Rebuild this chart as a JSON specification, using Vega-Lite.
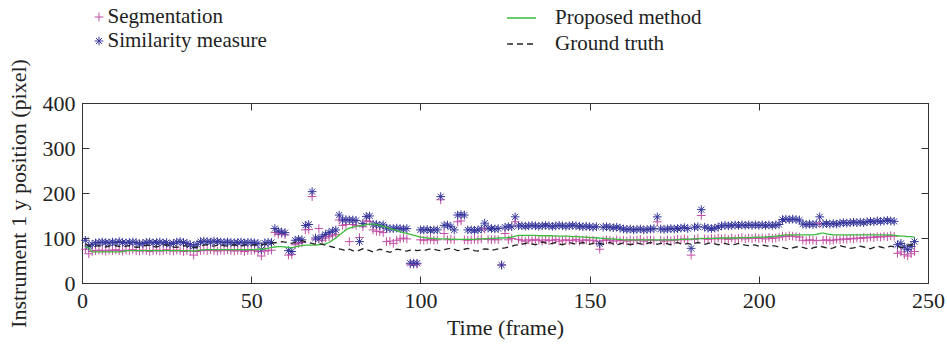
{
"$schema": "https://vega.github.io/schema/vega-lite/v6.json",
"width": 846, "height": 180,
"autosize": {"type": "none"},
"padding": {"left": 82, "top": 103, "right": 19, "bottom": 61},
"config": {
  "font": "Liberation Serif",
  "view": {"stroke": "#333", "strokeWidth": 1},
  "axis": {"grid": false, "tickSize": -7, "tickColor": "#333", "domainColor": "#333", "labelFontSize": 22, "titleFontSize": 22, "labelColor": "#222", "titleColor": "#222", "titleFontWeight": "normal", "labelPadding": 14, "labelFlush": false, "labelFont": "Liberation Serif", "titleFont": "Liberation Serif"},
  "legend": {"labelFont": "Liberation Serif", "labelFontSize": 21, "labelColor": "#222"}
},
"data": {"values": [
{"f":1,"S":75,"M":95,"P":80,"G":86},{"f":2,"S":65,"M":82,"P":78,"G":83},{"f":3,"S":70,"M":86,"P":69,"G":81},{"f":4,"S":72,"M":89,"P":69,"G":82},{"f":5,"S":73,"M":90,"P":69,"G":83},{"f":6,"S":72,"M":91,"P":69,"G":81},{"f":7,"S":71,"M":90,"P":69,"G":80},{"f":8,"S":73,"M":89,"P":69,"G":82},{"f":9,"S":72,"M":91,"P":69,"G":84},{"f":10,"S":74,"M":90,"P":69,"G":83},
{"f":11,"S":72,"M":92,"P":69,"G":81},{"f":12,"S":71,"M":90,"P":69,"G":80},{"f":13,"S":73,"M":89,"P":72,"G":82},{"f":14,"S":72,"M":90,"P":72,"G":83},{"f":15,"S":74,"M":91,"P":72,"G":81},{"f":16,"S":72,"M":90,"P":72,"G":79},{"f":17,"S":71,"M":87,"P":72,"G":80},{"f":18,"S":73,"M":88,"P":72,"G":82},{"f":19,"S":72,"M":90,"P":72,"G":84},{"f":20,"S":70,"M":91,"P":72,"G":83},
{"f":21,"S":72,"M":89,"P":72,"G":81},{"f":22,"S":73,"M":90,"P":72,"G":80},{"f":23,"S":71,"M":91,"P":72,"G":82},{"f":24,"S":72,"M":89,"P":72,"G":84},{"f":25,"S":74,"M":90,"P":72,"G":85},{"f":26,"S":72,"M":86,"P":72,"G":82},{"f":27,"S":71,"M":88,"P":72,"G":80},{"f":28,"S":73,"M":91,"P":72,"G":79},{"f":29,"S":72,"M":92,"P":72,"G":81},{"f":30,"S":70,"M":90,"P":72,"G":83},
{"f":31,"S":72,"M":88,"P":72,"G":82},{"f":32,"S":71,"M":85,"P":72,"G":80},{"f":33,"S":62,"M":82,"P":71,"G":78},{"f":34,"S":70,"M":86,"P":72,"G":80},{"f":35,"S":72,"M":92,"P":73,"G":82},{"f":36,"S":73,"M":93,"P":74,"G":84},{"f":37,"S":72,"M":92,"P":74,"G":85},{"f":38,"S":74,"M":91,"P":74,"G":83},{"f":39,"S":72,"M":93,"P":74,"G":82},{"f":40,"S":71,"M":92,"P":74,"G":84},
{"f":41,"S":73,"M":91,"P":74,"G":85},{"f":42,"S":72,"M":90,"P":74,"G":83},{"f":43,"S":74,"M":91,"P":74,"G":82},{"f":44,"S":72,"M":90,"P":74,"G":84},{"f":45,"S":71,"M":89,"P":74,"G":85},{"f":46,"S":73,"M":90,"P":74,"G":83},{"f":47,"S":72,"M":91,"P":74,"G":82},{"f":48,"S":70,"M":89,"P":74,"G":84},{"f":49,"S":72,"M":90,"P":74,"G":85},{"f":50,"S":72,"M":90,"P":74,"G":84},
{"f":51,"S":73,"M":89,"P":74,"G":85},{"f":52,"S":70,"M":88,"P":75,"G":84},{"f":53,"S":60,"M":74,"P":75,"G":85},{"f":54,"S":71,"M":89,"P":76,"G":86},{"f":55,"S":72,"M":90,"P":77,"G":87},{"f":56,"S":73,"M":90,"P":79,"G":88},{"f":57,"S":112,"M":121,"P":80,"G":89},{"f":58,"S":108,"M":115,"P":81,"G":90},{"f":59,"S":110,"M":113,"P":81,"G":92},{"f":60,"S":107,"M":112,"P":80,"G":91},
{"f":61,"S":62,"M":72,"P":79,"G":90},{"f":62,"S":63,"M":70,"P":78,"G":88},{"f":63,"S":85,"M":95,"P":80,"G":90},{"f":64,"S":88,"M":97,"P":82,"G":93},{"f":65,"S":90,"M":96,"P":83,"G":94},{"f":66,"S":118,"M":128,"P":84,"G":92},{"f":67,"S":119,"M":130,"P":84,"G":90},{"f":68,"S":192,"M":203,"P":84,"G":88},{"f":69,"S":96,"M":100,"P":84,"G":86},{"f":70,"S":121,"M":98,"P":85,"G":88},
{"f":71,"S":95,"M":103,"P":86,"G":86},{"f":72,"S":100,"M":108,"P":87,"G":84},{"f":73,"S":103,"M":112,"P":90,"G":82},{"f":74,"S":105,"M":115,"P":95,"G":80},{"f":75,"S":108,"M":118,"P":100,"G":78},{"f":76,"S":140,"M":151,"P":106,"G":76},{"f":77,"S":128,"M":140,"P":112,"G":74},{"f":78,"S":130,"M":141,"P":118,"G":72},{"f":79,"S":92,"M":140,"P":122,"G":75},{"f":80,"S":130,"M":140,"P":124,"G":72},
{"f":81,"S":128,"M":139,"P":126,"G":70},{"f":82,"S":101,"M":92,"P":127,"G":73},{"f":83,"S":125,"M":132,"P":128,"G":76},{"f":84,"S":138,"M":148,"P":130,"G":74},{"f":85,"S":137,"M":149,"P":131,"G":72},{"f":86,"S":118,"M":130,"P":131,"G":69},{"f":87,"S":115,"M":130,"P":130,"G":72},{"f":88,"S":114,"M":128,"P":128,"G":75},{"f":89,"S":112,"M":129,"P":126,"G":73},{"f":90,"S":92,"M":122,"P":124,"G":70},
{"f":91,"S":93,"M":121,"P":121,"G":68},{"f":92,"S":88,"M":121,"P":119,"G":72},{"f":93,"S":95,"M":122,"P":117,"G":75},{"f":94,"S":98,"M":121,"P":114,"G":74},{"f":95,"S":100,"M":120,"P":112,"G":72},{"f":96,"S":98,"M":121,"P":110,"G":71},{"f":97,"S":42,"M":44,"P":108,"G":73},{"f":98,"S":42,"M":44,"P":106,"G":74},{"f":99,"S":42,"M":44,"P":104,"G":72},{"f":100,"S":96,"M":118,"P":102,"G":73},
{"f":101,"S":95,"M":118,"P":101,"G":72},{"f":102,"S":96,"M":119,"P":100,"G":74},{"f":103,"S":97,"M":117,"P":99,"G":76},{"f":104,"S":95,"M":118,"P":99,"G":75},{"f":105,"S":96,"M":118,"P":98,"G":73},{"f":106,"S":185,"M":192,"P":98,"G":72},{"f":107,"S":110,"M":128,"P":98,"G":74},{"f":108,"S":96,"M":129,"P":98,"G":76},{"f":109,"S":97,"M":125,"P":97,"G":77},{"f":110,"S":96,"M":118,"P":97,"G":75},
{"f":111,"S":136,"M":151,"P":97,"G":72},{"f":112,"S":138,"M":152,"P":97,"G":73},{"f":113,"S":96,"M":151,"P":97,"G":75},{"f":114,"S":95,"M":118,"P":97,"G":77},{"f":115,"S":96,"M":118,"P":97,"G":74},{"f":116,"S":97,"M":117,"P":97,"G":72},{"f":117,"S":96,"M":118,"P":98,"G":71},{"f":118,"S":98,"M":120,"P":98,"G":74},{"f":119,"S":120,"M":133,"P":98,"G":76},{"f":120,"S":97,"M":122,"P":99,"G":75},
{"f":121,"S":96,"M":121,"P":99,"G":73},{"f":122,"S":97,"M":120,"P":99,"G":74},{"f":123,"S":96,"M":121,"P":100,"G":76},{"f":124,"S":40,"M":40,"P":100,"G":77},{"f":125,"S":110,"M":124,"P":100,"G":78},{"f":126,"S":96,"M":125,"P":101,"G":80},{"f":127,"S":99,"M":125,"P":102,"G":82},{"f":128,"S":136,"M":147,"P":104,"G":84},{"f":129,"S":97,"M":127,"P":106,"G":85},{"f":130,"S":95,"M":127,"P":106,"G":86},
{"f":131,"S":93,"M":126,"P":106,"G":88},{"f":132,"S":96,"M":127,"P":106,"G":90},{"f":133,"S":94,"M":128,"P":106,"G":87},{"f":134,"S":97,"M":127,"P":106,"G":85},{"f":135,"S":95,"M":126,"P":105,"G":88},{"f":136,"S":93,"M":127,"P":105,"G":91},{"f":137,"S":96,"M":128,"P":105,"G":89},{"f":138,"S":94,"M":127,"P":105,"G":86},{"f":139,"S":95,"M":126,"P":105,"G":88},{"f":140,"S":97,"M":127,"P":104,"G":90},
{"f":141,"S":93,"M":128,"P":104,"G":87},{"f":142,"S":95,"M":127,"P":104,"G":85},{"f":143,"S":96,"M":126,"P":104,"G":88},{"f":144,"S":94,"M":127,"P":104,"G":90},{"f":145,"S":95,"M":128,"P":103,"G":88},{"f":146,"S":97,"M":127,"P":103,"G":86},{"f":147,"S":93,"M":126,"P":103,"G":88},{"f":148,"S":95,"M":125,"P":102,"G":90},{"f":149,"S":96,"M":126,"P":102,"G":88},{"f":150,"S":94,"M":125,"P":101,"G":86},
{"f":151,"S":95,"M":124,"P":101,"G":88},{"f":152,"S":93,"M":125,"P":100,"G":90},{"f":153,"S":75,"M":87,"P":100,"G":88},{"f":154,"S":94,"M":124,"P":99,"G":86},{"f":155,"S":96,"M":125,"P":99,"G":88},{"f":156,"S":95,"M":124,"P":98,"G":90},{"f":157,"S":93,"M":123,"P":98,"G":87},{"f":158,"S":96,"M":124,"P":97,"G":85},{"f":159,"S":94,"M":122,"P":97,"G":87},{"f":160,"S":95,"M":120,"P":96,"G":89},
{"f":161,"S":93,"M":119,"P":96,"G":87},{"f":162,"S":96,"M":120,"P":96,"G":85},{"f":163,"S":94,"M":118,"P":96,"G":87},{"f":164,"S":95,"M":119,"P":96,"G":89},{"f":165,"S":97,"M":120,"P":96,"G":87},{"f":166,"S":93,"M":118,"P":96,"G":85},{"f":167,"S":95,"M":119,"P":96,"G":88},{"f":168,"S":96,"M":120,"P":96,"G":90},{"f":169,"S":94,"M":121,"P":96,"G":88},{"f":170,"S":136,"M":147,"P":96,"G":86},
{"f":171,"S":95,"M":120,"P":96,"G":88},{"f":172,"S":93,"M":119,"P":96,"G":89},{"f":173,"S":96,"M":120,"P":96,"G":87},{"f":174,"S":94,"M":121,"P":96,"G":85},{"f":175,"S":95,"M":120,"P":96,"G":88},{"f":176,"S":97,"M":121,"P":96,"G":90},{"f":177,"S":96,"M":122,"P":97,"G":87},{"f":178,"S":98,"M":123,"P":97,"G":86},{"f":179,"S":96,"M":121,"P":97,"G":88},{"f":180,"S":62,"M":77,"P":98,"G":86},
{"f":181,"S":97,"M":124,"P":98,"G":88},{"f":182,"S":99,"M":125,"P":98,"G":90},{"f":183,"S":150,"M":163,"P":99,"G":88},{"f":184,"S":98,"M":124,"P":99,"G":86},{"f":185,"S":97,"M":122,"P":99,"G":88},{"f":186,"S":99,"M":121,"P":99,"G":89},{"f":187,"S":98,"M":122,"P":99,"G":87},{"f":188,"S":100,"M":124,"P":99,"G":85},{"f":189,"S":98,"M":127,"P":100,"G":87},{"f":190,"S":99,"M":128,"P":100,"G":88},
{"f":191,"S":97,"M":127,"P":100,"G":86},{"f":192,"S":100,"M":128,"P":100,"G":84},{"f":193,"S":98,"M":129,"P":100,"G":86},{"f":194,"S":99,"M":128,"P":100,"G":88},{"f":195,"S":101,"M":129,"P":101,"G":86},{"f":196,"S":98,"M":128,"P":101,"G":84},{"f":197,"S":100,"M":129,"P":101,"G":83},{"f":198,"S":99,"M":128,"P":101,"G":85},{"f":199,"S":101,"M":129,"P":102,"G":84},{"f":200,"S":99,"M":128,"P":102,"G":82},
{"f":201,"S":100,"M":129,"P":102,"G":84},{"f":202,"S":98,"M":128,"P":102,"G":83},{"f":203,"S":101,"M":129,"P":103,"G":81},{"f":204,"S":99,"M":128,"P":103,"G":83},{"f":205,"S":100,"M":129,"P":104,"G":82},{"f":206,"S":102,"M":130,"P":105,"G":80},{"f":207,"S":104,"M":141,"P":106,"G":79},{"f":208,"S":103,"M":142,"P":107,"G":77},{"f":209,"S":105,"M":141,"P":107,"G":76},{"f":210,"S":104,"M":142,"P":107,"G":78},
{"f":211,"S":103,"M":141,"P":107,"G":80},{"f":212,"S":102,"M":140,"P":107,"G":81},{"f":213,"S":95,"M":131,"P":107,"G":79},{"f":214,"S":94,"M":130,"P":107,"G":77},{"f":215,"S":96,"M":131,"P":107,"G":75},{"f":216,"S":95,"M":130,"P":107,"G":78},{"f":217,"S":94,"M":131,"P":108,"G":80},{"f":218,"S":132,"M":147,"P":110,"G":82},{"f":219,"S":95,"M":131,"P":111,"G":80},{"f":220,"S":96,"M":132,"P":109,"G":78},
{"f":221,"S":94,"M":131,"P":108,"G":76},{"f":222,"S":95,"M":132,"P":107,"G":78},{"f":223,"S":97,"M":131,"P":107,"G":81},{"f":224,"S":96,"M":133,"P":107,"G":83},{"f":225,"S":98,"M":134,"P":107,"G":81},{"f":226,"S":97,"M":133,"P":107,"G":79},{"f":227,"S":99,"M":134,"P":107,"G":77},{"f":228,"S":98,"M":135,"P":107,"G":78},{"f":229,"S":100,"M":134,"P":107,"G":80},{"f":230,"S":99,"M":135,"P":107,"G":82},
{"f":231,"S":101,"M":134,"P":107,"G":80},{"f":232,"S":100,"M":136,"P":107,"G":78},{"f":233,"S":102,"M":137,"P":107,"G":76},{"f":234,"S":101,"M":136,"P":107,"G":79},{"f":235,"S":103,"M":138,"P":107,"G":82},{"f":236,"S":102,"M":137,"P":107,"G":80},{"f":237,"S":104,"M":138,"P":107,"G":78},{"f":238,"S":103,"M":139,"P":107,"G":80},{"f":239,"S":105,"M":138,"P":107,"G":82},{"f":240,"S":104,"M":137,"P":106,"G":80},
{"f":241,"S":66,"M":85,"P":105,"G":82},{"f":242,"S":69,"M":88,"P":104,"G":78},{"f":243,"S":63,"M":80,"P":104,"G":80},{"f":244,"S":60,"M":74,"P":103,"G":84},{"f":245,"S":65,"M":81,"P":103,"G":85},{"f":246,"S":70,"M":92,"P":102,"G":84}
]},
"layer": [
  {
    "transform": [{"fold": ["S", "M"], "as": ["k", "v"]}],
    "mark": {"type": "point", "filled": false, "strokeWidth": 1, "opacity": 1, "size": 75},
    "encoding": {
      "x": {"field": "f", "type": "quantitative", "scale": {"domain": [0, 250], "nice": false},
            "axis": {"orient": "bottom", "title": "Time (frame)", "values": [0, 50, 100, 150, 200, 250], "titlePadding": 6}},
      "y": {"field": "v", "type": "quantitative", "scale": {"domain": [0, 400], "nice": false},
            "axis": {"orient": "left", "title": "Instrument 1 y position (pixel)", "values": [0, 100, 200, 300, 400], "titlePadding": 12}},
      "color": {"field": "k", "type": "nominal", "scale": {"domain": ["S", "M"], "range": ["#c24fa6", "#35359c"]},
        "legend": {"orient": "none", "legendX": 6.5, "legendY": -96.5, "direction": "vertical", "title": null, "labelOffset": -2, "rowPadding": 2, "symbolSize": 75, "symbolStrokeWidth": 1,
          "labelExpr": "datum.label == 'S' ? 'Segmentation' : 'Similarity measure'"}},
      "shape": {"field": "k", "type": "nominal", "scale": {"domain": ["S", "M"], "range": ["M-1,0L1,0M0,-1L0,1", "M-1,0L1,0M0,-1L0,1M-0.7,-0.7L0.7,0.7M-0.7,0.7L0.7,-0.7"]}}
    }
  },
  {
    "transform": [{"fold": ["P", "G"], "as": ["k2", "v"]}],
    "mark": {"type": "line", "strokeWidth": 1.3},
    "encoding": {
      "x": {"field": "f", "type": "quantitative", "scale": {"domain": [0, 250], "nice": false},
            "axis": {"orient": "top", "title": null, "labels": false, "values": [0, 50, 100, 150, 200, 250]}},
      "y": {"field": "v", "type": "quantitative", "scale": {"domain": [0, 400], "nice": false},
            "axis": {"orient": "right", "title": null, "labels": false, "values": [0, 100, 200, 300, 400]}},
      "stroke": {"field": "k2", "type": "nominal", "scale": {"domain": ["P", "G"], "range": ["#3dbb3d", "#222222"]},
        "legend": {"orient": "none", "legendX": 424, "legendY": -100.5, "direction": "vertical", "title": null, "labelOffset": 18, "rowPadding": -2, "symbolType": "stroke", "symbolSize": 841, "symbolStrokeWidth": 1.3,
          "labelExpr": "datum.label == 'P' ? 'Proposed method' : 'Ground truth'"}},
      "strokeDash": {"field": "k2", "type": "nominal", "scale": {"domain": ["P", "G"], "range": [[1, 0], [6, 4]]}}
    }
  }
],
"resolve": {"axis": {"x": "independent", "y": "independent"}}
}
